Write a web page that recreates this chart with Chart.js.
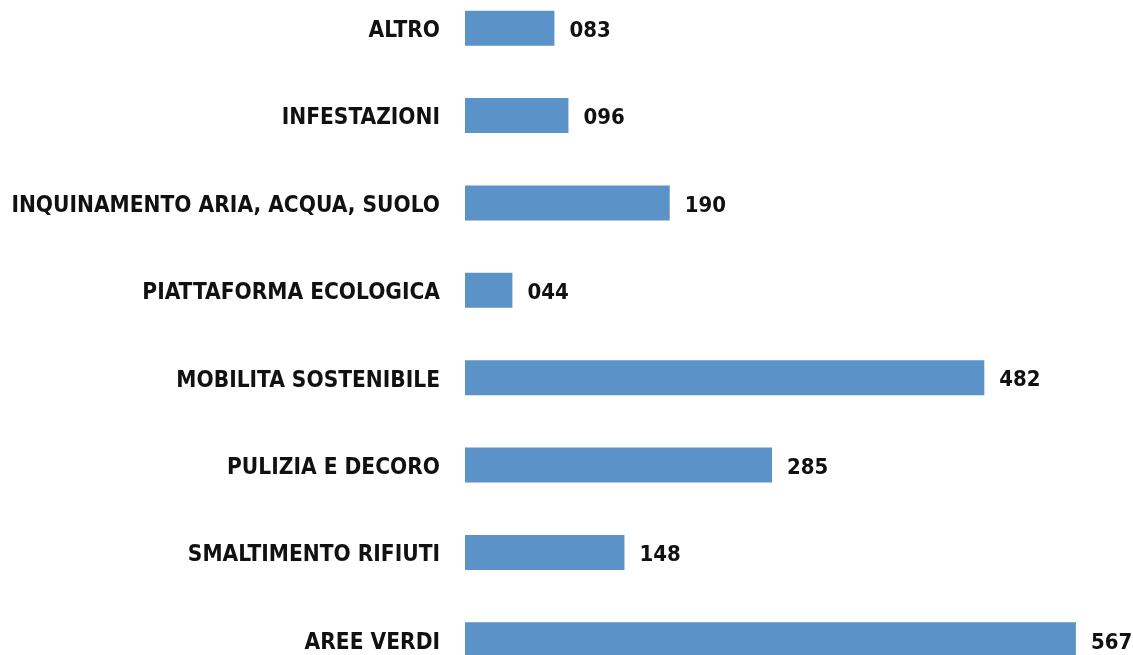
<!DOCTYPE html>
<html>
<head>
<meta charset="utf-8">
<script src="https://cdn.jsdelivr.net/npm/chart.js@4.4.0/dist/chart.umd.min.js"></script>
<style>
  html, body { margin: 0; padding: 0; background: #fff; overflow: hidden; }
  #segnalazioni { position: absolute; left: 0; top: -54px; }
</style>
</head>
<body>
<canvas id="segnalazioni" width="1133" height="776"></canvas>
<script>
// categorie e valori (dall'alto in basso)
const categorie = [
  'ALTRO',
  'INFESTAZIONI',
  'INQUINAMENTO ARIA, ACQUA, SUOLO',
  'PIATTAFORMA ECOLOGICA',
  'MOBILITA SOSTENIBILE',
  'PULIZIA E DECORO',
  'SMALTIMENTO RIFIUTI',
  'AREE VERDI'
];
const valori = [83, 96, 190, 44, 482, 285, 148, 567];

const fontEtichette = "'Liberation Sans Narrow', 'DejaVu Sans Condensed', sans-serif";

// scrive il valore a destra di ogni barra
const etichetteValori = {
  id: 'etichetteValori',
  afterDatasetsDraw(chart) {
    const ctx = chart.ctx;
    const meta = chart.getDatasetMeta(0);
    ctx.save();
    ctx.font = "bold 22px " + fontEtichette;
    ctx.fillStyle = '#111';
    ctx.textAlign = 'left';
    ctx.textBaseline = 'middle';
    meta.data.forEach((bar, i) => {
      const testo = String(valori[i]).padStart(3, '0');
      ctx.fillText(testo, bar.x + 15, bar.y + 3);
    });
    ctx.restore();
  }
};

const ctx = document.getElementById('segnalazioni').getContext('2d');
const chart = new Chart(ctx, {
  type: 'bar',
  data: {
    labels: categorie,
    datasets: [{
      data: valori,
      backgroundColor: '#5b92c8',
      borderWidth: 0,
      categoryPercentage: 1,
      barPercentage: 0.4
    }]
  },
  options: {
    indexAxis: 'y',
    responsive: false,
    animation: false,
    layout: { padding: 0 },
    plugins: {
      legend: { display: false },
      tooltip: { enabled: false }
    },
    scales: {
      x: {
        display: false,
        min: 0,
        max: 620
      },
      y: {
        grid: { display: false, drawTicks: false },
        border: { display: false },
        ticks: {
          padding: 25,
          labelOffset: 3,
          color: '#111',
          font: { family: fontEtichette, size: 22.5, weight: 'bold' }
        },
        afterFit(scale) { scale.width = 465; }
      }
    }
  },
  plugins: [etichetteValori]
});
</script>
</body>
</html>
